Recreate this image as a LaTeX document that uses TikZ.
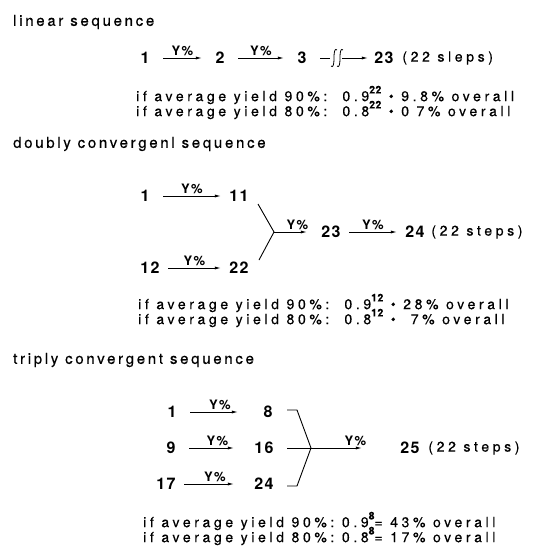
\documentclass[tikz,border=0pt]{standalone}
\usepackage{fontspec}
\setmainfont{TeX Gyre Heros}
\usetikzlibrary{arrows.meta, positioning}
\newcommand{\yexp}[1]{\raisebox{0.55em}{\fontsize{10.5}{11}\selectfont\bfseries\addfontfeature{LetterSpace=4}#1}}

\begin{document}
\begin{tikzpicture}[
    x=1pt, y=-1pt,
    every node/.style={font=\fontsize{14}{16}\selectfont\addfontfeature{LetterSpace=26, FakeBold=0.4}},
    heading/.style={anchor=west, inner sep=0pt, font=\fontsize{15}{17}\selectfont\addfontfeature{LetterSpace=18, FakeBold=0.4}},
    yieldtxt/.style={anchor=west, inner sep=0pt},
    cmpd/.style={inner sep=0pt, minimum width=20pt, font=\fontsize{16}{18}\selectfont\bfseries\addfontfeature{LetterSpace=8}},
    steps/.style={anchor=west, inner sep=0pt},
    ylabel/.style={above, inner sep=2pt, font=\fontsize{13}{13}\selectfont\bfseries\addfontfeature{LetterSpace=10}},
    yarrow/.style={-{Latex[length=6pt, width=3.2pt]}, line width=0.9pt},
    gap/.style={shorten <=8pt, shorten >=8pt},
    forkline/.style={line width=0.9pt}
]
\useasboundingbox (0,0) rectangle (535,555);

% Linear sequence
\node[heading] (hlin) at (13,22) {linear sequence};
\node[cmpd] (l1) at (145,58) {1};
\node[cmpd] (l2) at (220,58) {2};
\node[cmpd] (l3) at (302,58) {3};
\node[cmpd] (l23) at (384,58) {23};
\node[steps, right=8pt of l23] (lst) {(22 sleps)};
\coordinate (lcut) at (330,58);
\coordinate (lres) at (342,58);
\draw[yarrow, gap] (l1) -- node[ylabel] {Y\%} (l2);
\draw[yarrow, gap] (l2) -- node[ylabel] {Y\%} (l3);
\draw[forkline, shorten <=8pt] (l3) -- (lcut);
\foreach \sx in {334,340}
  \draw[line width=0.8pt] (\sx+3,50) .. controls (\sx+1,48) and (\sx,51) .. (\sx,58)
        .. controls (\sx,65) and (\sx-1,68) .. (\sx-3,66);
\draw[yarrow, shorten >=6pt] (lres) -- (l23);
\node[yieldtxt] (lt1) at (136,95) {if average yield 90\%:\ \ 0.9\yexp{22} \textbullet{} 9.8\% overall};
\node[yieldtxt] (lt2) at (136,110) {if average yield 80\%:\ \ 0.8\yexp{22} \textbullet{} 0 7\% overall};

% Doubly convergent sequence
\node[heading] (hdbl) at (13,144) {doubly convergenl sequence};
\node[cmpd] (d1) at (145,196) {1};
\node[cmpd] (d11) at (239,196) {11};
\node[cmpd] (d12) at (150,268) {12};
\node[cmpd] (d22) at (239,268) {22};
\node[cmpd] (d23) at (331,232) {23};
\node[cmpd] (d24) at (415,232) {24};
\node[steps, right=6pt of d24] (dst) {(22 steps)};
\coordinate (dtop) at (258,204);
\coordinate (dfork) at (274,232);
\coordinate (dbot) at (259,260);
\draw[yarrow, gap] (d1) -- node[ylabel] {Y\%} (d11);
\draw[yarrow, gap] (d12) -- node[ylabel] {Y\%} (d22);
\draw[forkline] (dtop) -- (dfork) -- (dbot);
\draw[yarrow, shorten >=14pt] (dfork) -- node[ylabel] {Y\%} (d23);
\draw[yarrow, gap] (d23) -- node[ylabel] {Y\%} (d24);
\node[yieldtxt] (dt1) at (138,303) {if average yield 90\%:\ \ 0.9\yexp{12} \textbullet{} 28\% overall};
\node[yieldtxt] (dt2) at (138,318) {if average yield 80\%:\ \ 0.8\yexp{12} \textbullet{}\ \ 7\% overall};

% Triply convergent sequence
\node[heading] (htri) at (13,360) {triply convergent sequence};
\node[cmpd] (t1) at (172,412) {1};
\node[cmpd] (t8) at (268,412) {8};
\node[cmpd] (t9) at (171,448) {9};
\node[cmpd] (t16) at (264,448) {16};
\node[cmpd] (t17) at (166,484) {17};
\node[cmpd] (t24) at (264,484) {24};
\node[cmpd] (t25) at (410,448) {25};
\node[steps, right=8pt of t25] (tst) {(22 steps)};
\coordinate (ttop) at (287,410);
\coordinate (tfork) at (311,448);
\coordinate (tbot) at (287,486);
\draw[yarrow, gap, shorten >=20pt] (t1) -- node[ylabel] {Y\%} (t8);
\draw[yarrow, gap, shorten >=20pt] (t9) -- node[ylabel] {Y\%} (t16);
\draw[yarrow, gap, shorten >=20pt] (t17) -- node[ylabel] {Y\%} (t24);
\draw[forkline] (ttop) -- ++(10,0) -- (tfork) -- (tbot -| 297,0) -- (tbot);
\draw[forkline, shorten <=13pt] (t16) -- (tfork);
\draw[yarrow, shorten >=38pt] (tfork) -- node[ylabel] {Y\%} (t25);
\node[yieldtxt] (tt1) at (143,521) {if average yield 90\%:\ 0.9\yexp{8}= 43\% overall};
\node[yieldtxt] (tt2) at (143,536) {if average yield 80\%:\ 0.8\yexp{8}= 17\% overall};

\end{tikzpicture}
\end{document}
